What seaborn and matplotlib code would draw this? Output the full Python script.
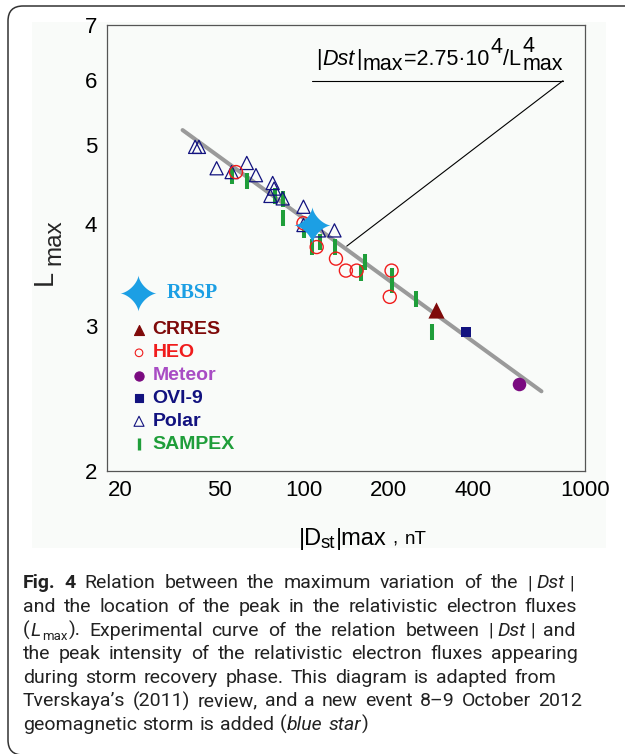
import re
import numpy as np
import matplotlib
matplotlib.use("Agg")
import matplotlib.pyplot as plt
import seaborn as sns
from matplotlib.patches import FancyBboxPatch, Rectangle
from matplotlib.ticker import FixedLocator, FixedFormatter, NullFormatter, NullLocator

# ---- values ----
polar_dst = [41, 42.3, 48.9, 55.3, 62.6, 67.5, 77.4, 78.3, 76.0, 84.0, 99.6, 99.6, 113, 128.4]
polar_L = [4.97, 4.97, 4.68, 4.63, 4.75, 4.59, 4.49, 4.42, 4.33, 4.30, 4.20, 3.99, 3.93, 3.93]
heo_dst = [57.3, 99.6, 111, 130, 141, 154, 205, 202]
heo_L = [4.63, 4.01, 3.75, 3.63, 3.51, 3.51, 3.51, 3.26]
sampex_dst = [55.6, 62.8, 78.8, 84.3, 84.3, 100, 107, 114, 129, 165, 160, 206, 206, 250, 285]
sampex_L = [4.58, 4.52, 4.33, 4.29, 4.07, 3.93, 3.75, 3.80, 3.75, 3.60, 3.49, 3.46, 3.37, 3.24, 2.95]
crres_dst, crres_L = [295], [3.14]
ovi_dst, ovi_L = [377], [2.95]
meteor_dst, meteor_L = [582], [2.55]
rbsp_dst, rbsp_L = [107], [3.99]
fit_dst = [37, 700]
fit_L = [5.21, 2.50]

x_major = [20, 50, 100, 200, 400, 1000]
x_minor = [30, 40, 60, 70, 80, 90, 300, 500, 600, 700, 800, 900]
y_ticks = [2, 3, 4, 5, 6, 7]
legend_names = ["CRRES", "HEO", "Meteor", "OVI-9", "Polar", "SAMPEX"]

caption_lines = [
    "**Fig.** **4** Relation between the maximum variation of the |`_Dst_`|",
    "and the location of the peak in the relativistic electron fluxes",
    "(_L_^max^). Experimental curve of the relation between |`_Dst_`| and",
    "the peak intensity of the relativistic electron fluxes appearing",
    "during storm recovery phase. This diagram is adapted from",
    "Tverskaya\u2019s (2011) review, and a new event 8\u20139 October 2012",
    "geomagnetic storm is added (_blue_ _star_)",
]
caption_right = [574, 577, 576, 578, 556, 582, None]

NAVY = "#12127f"
RED = "#f01c1c"
GREEN = "#1f9e3a"
DARKRED = "#7f0a0a"
PURPLE = "#7a0a80"
PURPLE_TXT = "#a84cc4"
STAR = "#1c9fe4"
BG = "#f9fbf9"

W, H = 625, 754


def fx(px):
    return px / W


def fy(py):
    return 1 - py / H


sns.set_style("white")
plt.rcParams["font.family"] = ["Liberation Sans", "DejaVu Sans"]

fig = plt.figure(figsize=(W / 100, H / 100), dpi=100)

# outer rounded frame and light raster background
frame = FancyBboxPatch((0.08, -0.01), 6.6, 7.49, boxstyle="round,pad=0,rounding_size=0.15",
                       transform=fig.dpi_scale_trans, fill=False, ec="#333333", lw=1.1,
                       zorder=-2)
fig.patches.append(frame)
fig.patches.append(Rectangle((fx(32), fy(548)), fx(606) - fx(32), fy(22) - fy(548),
                             transform=fig.transFigure, fc=BG, ec="none", zorder=-1))

ax = fig.add_axes([fx(107.5), fy(470.7), fx(585) - fx(107.5), fy(25) - fy(470.7)])
ax.set_zorder(1)
ax.set_facecolor(BG)
ax.set_xscale("log")
ax.set_yscale("log")

# 4-point star marker shape
t = np.linspace(0, 2 * np.pi, 121)
star = np.column_stack([np.sign(np.cos(t)) * np.abs(np.cos(t)) ** 3,
                        np.sign(np.sin(t)) * np.abs(np.sin(t)) ** 3])

sns.lineplot(x=fit_dst, y=fit_L, ax=ax, color="#9a9a9a", lw=2.9, zorder=2)
sns.scatterplot(x=sampex_dst, y=sampex_L, ax=ax, marker="|", s=117, linewidth=2.9,
                color=GREEN, edgecolor=GREEN, zorder=3)
sns.scatterplot(x=polar_dst, y=polar_L, ax=ax, marker="^", s=90, linewidth=0.9,
                color=NAVY, facecolor="none", edgecolor=NAVY, zorder=4)
sns.scatterplot(x=heo_dst, y=heo_L, ax=ax, marker="o", s=88, linewidth=1.0,
                color=RED, facecolor="none", edgecolor=RED, zorder=5)
sns.scatterplot(x=crres_dst, y=crres_L, ax=ax, marker="^", s=135, linewidth=0,
                color=DARKRED, zorder=5)
sns.scatterplot(x=ovi_dst, y=ovi_L, ax=ax, marker="s", s=60, linewidth=0,
                color=NAVY, zorder=5)
sns.scatterplot(x=meteor_dst, y=meteor_L, ax=ax, marker="o", s=95, linewidth=0,
                color=PURPLE, zorder=5)
sns.scatterplot(x=rbsp_dst, y=rbsp_L, ax=ax, marker=star, s=700, linewidth=0,
                color=STAR, zorder=6)

ax.set_xlim(20, 1000)
ax.set_ylim(2, 7)
ax.xaxis.set_major_locator(FixedLocator(x_major))
ax.xaxis.set_major_formatter(FixedFormatter([str(v) for v in x_major]))
ax.xaxis.set_minor_locator(FixedLocator(x_minor))
ax.xaxis.set_minor_formatter(NullFormatter())
ax.yaxis.set_major_locator(FixedLocator(y_ticks))
ax.yaxis.set_major_formatter(FixedFormatter([str(v) for v in y_ticks]))
ax.yaxis.set_minor_locator(NullLocator())
ax.tick_params(which="both", direction="in", color="#555555", width=0.8,
               top=False, right=False, labelsize=16, labelcolor="black")
ax.tick_params(axis="x", which="major", length=3.5, pad=6.5)
ax.tick_params(axis="x", which="minor", length=2)
ax.tick_params(axis="y", which="major", length=4, pad=7.5)
ax.set_xlabel("")
ax.set_ylabel("")
ax.get_xticklabels()[0].set_horizontalalignment("left")
for sp in ax.spines.values():
    sp.set_color("#555555")
    sp.set_linewidth(0.9)

# manual legend
mk = [("^", DARKRED, DARKRED, 52), ("o", "none", RED, 30), ("o", PURPLE, PURPLE, 44),
      ("s", NAVY, NAVY, 26), ("^", "none", NAVY, 52), ("|", GREEN, GREEN, 70)]
txt_col = [DARKRED, RED, PURPLE_TXT, NAVY, NAVY, GREEN]
ax.scatter([0.0645], [0.398], marker=star, s=680, color=STAR, lw=0,
           transform=ax.transAxes, zorder=6)
ax.text(0.124, 0.398, "RBSP", transform=ax.transAxes, va="center", ha="left",
        family="Liberation Serif", weight="bold", fontsize=14.5, color=STAR)
for i, (name, (m, fc, ec, s), tc) in enumerate(zip(legend_names, mk, txt_col)):
    yy = 0.3157 - 0.0512 * i
    lw = 2.4 if m == "|" else 0.8
    ax.scatter([0.066], [yy], marker=m, s=s, facecolor=fc, edgecolor=ec, lw=lw,
               transform=ax.transAxes, zorder=6)
    ax.text(0.0947, yy, name, transform=ax.transAxes, va="center", ha="left",
            weight="bold", fontsize=14, color=tc)

renderer = fig.canvas.get_renderer()


def run(pieces, x0, baseline):
    """place text pieces one after another along a baseline (pixels);
    a piece with text None is just a horizontal gap of `dy` pixels"""
    x = x0
    for text, props, dy, kw in pieces:
        if text is None:
            x += dy
            continue
        tt = fig.text(fx(x), fy(baseline + dy), text, ha="left", va="baseline",
                      **props, **kw)
        x += tt.get_window_extent(renderer).width + 1
    return x


# formula annotation
F = dict(family="Liberation Sans", fontsize=15.5, color="black")
FI = dict(F, style="italic")
run([("|", F, 0, {}), ("Dst", FI, 0, {}), ("|", F, 0, {}), ("max", F, 4.5, {}),
     ("=2.75\u00b710", F, 0, {}), ("4", F, -11.7, {}), ("/L", F, 0, {}),
     ("4\nmax", F, 4.5, dict(linespacing=0.78))], 316, 65)
ax.plot([fx(311.7), fx(563)], [fy(80.7), fy(80.7)], transform=fig.transFigure,
        color="black", lw=0.8, clip_on=False)
ax.annotate("", xy=(142, 3.76), xycoords="data", xytext=(fx(563), fy(80.7)),
            textcoords="figure fraction",
            arrowprops=dict(arrowstyle="-", color="black", lw=0.8, shrinkA=0, shrinkB=0))

# axis labels
X = dict(family="Liberation Sans", fontsize=17, color="black")
XS = dict(X, fontsize=13.5)
run([("|D", X, 0, {}), (None, None, -2.5, {}), ("st", XS, 2.5, {}), ("|max", X, 0, {}),
     (None, None, 5, {}), (",", XS, -1, {}), (None, None, 6, {}), ("nT", XS, -1, {})],
    299, 545)
fig.text(fx(52), fy(285.5), "L", rotation=90, rotation_mode="anchor", ha="left",
         va="baseline", fontsize=19.5, family="Liberation Sans")
fig.text(fx(60), fy(265), "max", rotation=90, rotation_mode="anchor", ha="left",
         va="baseline", fontsize=17.5, family="Liberation Sans")

# justified caption
CF = ["Roboto", "DejaVu Sans"]
styles = {
    "n": (dict(family=CF, fontsize=14, color="#222222"), 0),
    "b": (dict(family=CF, fontsize=14, weight="bold", color="#222222"), 0),
    "i": (dict(family=CF, fontsize=14, style="italic", color="#222222"), 0),
    "s": (dict(family=CF, fontsize=9.5, color="#222222"), 4),
}
pat = re.compile(r"\*\*(.+?)\*\*|_(.+?)_|\^(.+?)\^|(`)|([^*_^`]+)")
space_w = 4.0
for k, line in enumerate(caption_lines):
    base = 588.3 + 23.6 * k
    words = []
    for w in line.split(" "):
        pieces = []
        for m in pat.finditer(w):
            if m.group(4):
                pieces.append((None, 2.5, 0))
                continue
            kind = "b" if m.group(1) else "i" if m.group(2) else "s" if m.group(3) else "n"
            text = m.group(1) or m.group(2) or m.group(3) or m.group(5)
            props, dy = styles[kind]
            tt = fig.text(0, 0, text, ha="left", va="baseline", **props)
            pieces.append((tt, tt.get_window_extent(renderer).width, dy))
        words.append(pieces)
    widths = [sum(p[1] + 1 for p in wd) - 1 for wd in words]
    right = caption_right[k]
    if right is None:
        gap = space_w + 1.5
    else:
        gap = (right - 23 - sum(widths)) / (len(words) - 1)
    x = 23
    for wd, width in zip(words, widths):
        xx = x
        for tt, pw, dy in wd:
            if tt is not None:
                tt.set_position((fx(xx), fy(base + dy)))
            xx += pw + 1
        x += width + gap

fig.savefig("out.png", dpi=100)
